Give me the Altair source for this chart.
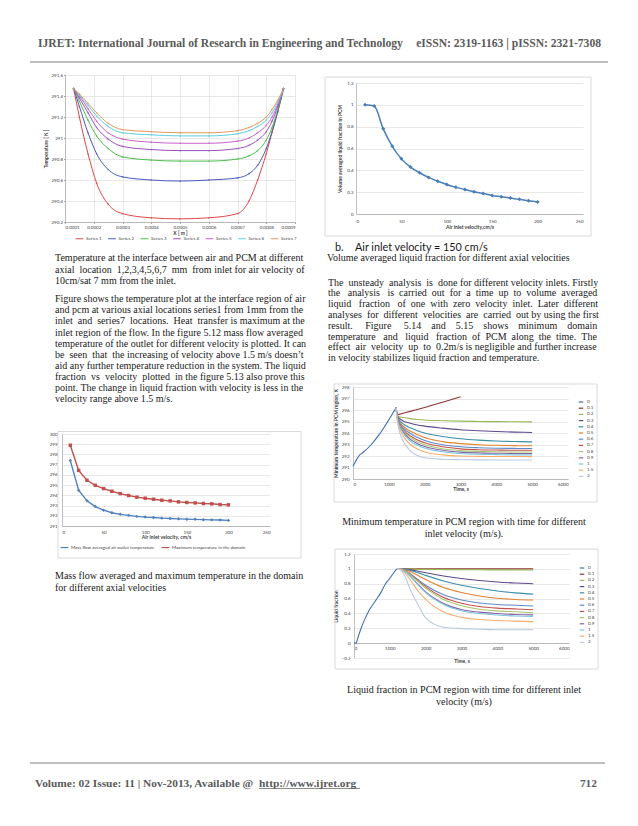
import altair as alt
import pandas as pd

# ---------------- data ----------------
# Chart 1: interface temperature along axial position (K)
c1_x = [0.00013, 0.00015, 0.00018, 0.00021, 0.00025, 0.0003, 0.0004, 0.0005,
        0.0006, 0.0007, 0.00074, 0.00077, 0.0008, 0.00082, 0.00084, 0.00086]
c1_series = ["Series 1", "Series 2", "Series 3", "Series 4", "Series 5", "Series 6", "Series 7"]
c1_s1 = [291.47, 291.2, 290.85, 290.57, 290.37, 290.28, 290.24, 290.23, 290.24, 290.28, 290.4, 290.6, 290.85, 291.05, 291.25, 291.47]
c1_s2 = [291.47, 291.3, 291.05, 290.85, 290.7, 290.63, 290.6, 290.59, 290.6, 290.62, 290.66, 290.74, 290.9, 291.06, 291.25, 291.47]
c1_s3 = [291.47, 291.35, 291.17, 291.02, 290.9, 290.82, 290.79, 290.78, 290.78, 290.8, 290.83, 290.88, 290.98, 291.1, 291.27, 291.47]
c1_s4 = [291.47, 291.38, 291.24, 291.1, 290.99, 290.92, 290.89, 290.88, 290.88, 290.9, 290.93, 290.98, 291.06, 291.16, 291.3, 291.47]
c1_s5 = [291.47, 291.4, 291.28, 291.16, 291.05, 290.99, 290.96, 290.95, 290.95, 290.97, 291.0, 291.05, 291.12, 291.2, 291.32, 291.47]
c1_s6 = [291.47, 291.41, 291.31, 291.21, 291.11, 291.05, 291.03, 291.02, 291.02, 291.04, 291.07, 291.11, 291.17, 291.24, 291.34, 291.47]
c1_s7 = [291.47, 291.42, 291.33, 291.24, 291.14, 291.08, 291.06, 291.05, 291.05, 291.07, 291.1, 291.14, 291.2, 291.27, 291.36, 291.47]
c1_xticks = [0.0001, 0.0002, 0.0003, 0.0004, 0.0005, 0.0006, 0.0007, 0.0008, 0.0009]
c1_yticks = [290.2, 290.4, 290.6, 290.8, 291.0, 291.2, 291.4, 291.6]

# Chart 2: outlet / maximum temperature vs inlet velocity
c2_v = [10, 20, 30, 40, 50, 60, 70, 80, 90, 100, 110, 120, 130, 140, 150, 160, 170, 180, 190, 200]
c2_outlet = [297.4, 294.5, 293.46, 292.9, 292.55, 292.3, 292.14, 292.04, 291.94, 291.87,
             291.83, 291.77, 291.73, 291.7, 291.67, 291.65, 291.62, 291.6, 291.58, 291.55]
c2_max = [298.9, 296.44, 295.47, 294.98, 294.66, 294.4, 294.17, 293.98, 293.82, 293.72,
          293.62, 293.52, 293.46, 293.36, 293.3, 293.26, 293.2, 293.17, 293.1, 293.07]
c2_names = ["Mass flow averaged air outlet temperature", "Maximum temperature in the domain"]
c2_yticks = [291, 292, 293, 294, 295, 296, 297, 298, 299, 300]
c2_xticks = [0, 50, 100, 150, 200, 250]

# Chart 3: volume averaged liquid fraction vs inlet velocity
c3_v = [10, 20, 30, 40, 50, 60, 70, 80, 90, 100, 110, 120, 130, 140, 150, 160, 170, 180, 190, 200]
c3_lf = [1.0, 0.99, 0.78, 0.62, 0.505, 0.43, 0.378, 0.335, 0.30, 0.27,
         0.244, 0.225, 0.204, 0.188, 0.17, 0.158, 0.146, 0.134, 0.122, 0.11]
c3_yticks = [0, 0.2, 0.4, 0.6, 0.8, 1.0, 1.2]

# Charts 4 and 5: series = inlet velocity (m/s)
c45_series = ["0", "0.1", "0.2", "0.3", "0.4", "0.5", "0.6", "0.7", "0.8", "0.9", "1", "1.5", "2"]
c45_colors = ["#3e6fb0", "#8e3532", "#98b954", "#5e4a8c", "#3a8fa8", "#e0822e", "#5b8cc8",
              "#c5514e", "#a9c76e", "#8266a8", "#7cc4dc", "#f5ae70", "#b9c8e4"]

# Chart 4: minimum temperature in PCM (K) vs time (s)
c4_t0 = [0, 190, 280, 510, 740, 980, 1200]
c4_v0 = [291.1, 292.1, 292.3, 293.0, 293.9, 295.05, 296.2]
c4_t01 = [1200, 1250, 1400, 1600, 1800, 2000, 2500, 3000]
c4_v01 = [296.2, 295.6, 295.72, 295.88, 296.05, 296.22, 296.68, 297.15]
c4_t = [1200, 1250, 1400, 1600, 1800, 2000, 2500, 3000, 3500, 4000, 4500, 5000]
c4_v02 = [296.2, 295.45, 295.35, 295.25, 295.18, 295.13, 295.07, 295.03, 295.0, 294.99, 294.98, 294.97]
c4_v03 = [296.2, 295.4, 295.05, 294.85, 294.7, 294.6, 294.42, 294.28, 294.2, 294.13, 294.08, 294.05]
c4_v04 = [296.2, 295.3, 294.8, 294.45, 294.2, 294.0, 293.7, 293.5, 293.38, 293.3, 293.26, 293.23]
c4_v05 = [296.2, 295.25, 294.6, 294.15, 293.85, 293.6, 293.25, 293.08, 292.98, 292.93, 292.9, 292.89]
c4_v06 = [296.2, 295.2, 294.45, 293.95, 293.6, 293.35, 292.98, 292.8, 292.72, 292.68, 292.66, 292.65]
c4_v07 = [296.2, 295.15, 294.3, 293.75, 293.4, 293.15, 292.8, 292.62, 292.55, 292.52, 292.5, 292.5]
c4_v08 = [296.2, 295.1, 294.2, 293.6, 293.22, 292.98, 292.63, 292.47, 292.4, 292.37, 292.35, 292.35]
c4_v09 = [296.2, 295.05, 294.1, 293.45, 293.07, 292.83, 292.5, 292.34, 292.27, 292.24, 292.22, 292.22]
c4_v10 = [296.2, 295.0, 294.0, 293.3, 292.93, 292.7, 292.37, 292.22, 292.15, 292.12, 292.1, 292.1]
c4_v15 = [296.2, 294.9, 293.75, 293.0, 292.6, 292.35, 292.1, 292.0, 291.97, 291.96, 291.95, 291.95]
c4_v20 = [296.2, 294.8, 293.3, 292.45, 292.05, 291.85, 291.72, 291.68, 291.66, 291.65, 291.65, 291.65]
c4_yticks = [290, 291, 292, 293, 294, 295, 296, 297, 298]
c45_xticks = [0, 1000, 2000, 3000, 4000, 5000, 6000]

# Chart 5: liquid fraction vs time (s)
c5_t0 = [0, 60, 100, 190, 280, 420, 600, 750, 880, 980, 1070, 1160, 1200]
c5_v0 = [0.0, 0.0, 0.06, 0.19, 0.3, 0.44, 0.57, 0.68, 0.8, 0.86, 0.92, 0.98, 1.0]
c5_t = [1200, 1300, 1400, 1600, 1800, 2000, 2500, 3000, 3500, 4000, 4500, 5000]
c5_v01 = [1.0, 1.0, 1.0, 1.0, 1.0, 1.0, 1.0, 1.0, 1.0, 1.0, 1.0, 1.0]
c5_v02 = [1.0, 1.0, 0.999, 0.997, 0.995, 0.993, 0.99, 0.988, 0.987, 0.986, 0.985, 0.985]
c5_v03 = [1.0, 1.0, 0.998, 0.986, 0.968, 0.948, 0.904, 0.87, 0.844, 0.824, 0.81, 0.80]
c5_v04 = [1.0, 1.0, 0.997, 0.976, 0.946, 0.912, 0.837, 0.779, 0.735, 0.701, 0.677, 0.66]
c5_v05 = [1.0, 1.0, 0.992, 0.958, 0.908, 0.857, 0.748, 0.681, 0.635, 0.605, 0.588, 0.58]
c5_v06 = [1.0, 1.0, 0.985, 0.925, 0.85, 0.78, 0.65, 0.58, 0.54, 0.52, 0.51, 0.50]
c5_v07 = [1.0, 1.0, 0.984, 0.918, 0.835, 0.758, 0.615, 0.538, 0.494, 0.472, 0.461, 0.45]
c5_v08 = [1.0, 1.0, 0.982, 0.91, 0.823, 0.74, 0.587, 0.504, 0.457, 0.434, 0.422, 0.41]
c5_v09 = [1.0, 0.997, 0.975, 0.888, 0.783, 0.69, 0.535, 0.454, 0.417, 0.399, 0.386, 0.38]
c5_v10 = [1.0, 0.997, 0.974, 0.885, 0.776, 0.68, 0.52, 0.437, 0.398, 0.379, 0.366, 0.36]
c5_v15 = [1.0, 0.993, 0.957, 0.83, 0.695, 0.588, 0.418, 0.347, 0.318, 0.304, 0.297, 0.29]
c5_v20 = [1.0, 0.984, 0.918, 0.688, 0.508, 0.34, 0.215, 0.196, 0.188, 0.18, 0.18, 0.18]
c5_yticks = [-0.2, 0, 0.2, 0.4, 0.6, 0.8, 1.0, 1.2]

# ---------------- page text ----------------
header_left = "IJRET: International Journal of Research in Engineering and Technology"
header_right = "eISSN: 2319-1163 | pISSN: 2321-7308"
footer_left = "Volume: 02 Issue: 11 | Nov-2013, Available @ "
footer_link = "http://www.ijret.org"
footer_page = "712"

cap1 = ["Temperature at the interface between air and PCM at different",
        "axial location 1,2,3,4,5,6,7 mm from inlet for air velocity of",
        "10cm/sat 7 mm from the inlet."]
para1 = ["Figure shows the temperature plot at the interface region of air",
         "and pcm at various axial locations series1 from 1mm from the",
         "inlet and series7 locations. Heat transfer is maximum at the",
         "inlet region of the flow. In the figure 5.12 mass flow averaged",
         "temperature of the outlet for different velocity is plotted. It can",
         "be seen that the increasing of velocity above 1.5 m/s doesn\u2019t",
         "aid any further temperature reduction in the system. The liquid",
         "fraction vs velocity plotted in the figure 5.13 also prove this",
         "point. The change in liquid fraction with velocity is less in the",
         "velocity range above 1.5 m/s."]
cap2 = ["Mass flow averaged and maximum temperature in the domain",
        "for different axial velocities"]
sub3_a = "b."
sub3_b = "Air inlet velocity = 150 cm/s"
cap3 = ["Volume averaged liquid fraction for different axial velocities"]
para2 = ["The unsteady analysis is done for different velocity inlets. Firstly",
         "the analysis is carried out for a time up to volume averaged",
         "liquid fraction of one with zero velocity inlet. Later different",
         "analyses for different velocities are carried out by using the first",
         "result.  Figure  5.14  and  5.15  shows  minimum  domain",
         "temperature and liquid fraction of PCM along the time. The",
         "effect air velocity up to 0.2m/s is negligible and further increase",
         "in velocity stabilizes liquid fraction and temperature."]
cap4 = ["Minimum temperature in PCM  region with time for different",
        "inlet velocity (m/s)."]
cap5 = ["Liquid fraction in PCM region with time for different inlet",
        "velocity (m/s)"]

# ---------------- helpers ----------------
ONE = pd.DataFrame({"k": [0]})
SERIF = "Liberation Serif"
SANS = "Lato"
BODY_SIZE = 10
GRID = "#d9d9d9"
LAB = "#404040"

# Times-compatible advance widths (per 1000 em) used to justify the text lines
_W = {" ": 250, "a": 444, "b": 500, "c": 444, "d": 500, "e": 444, "f": 333, "g": 500, "h": 500,
      "i": 278, "j": 278, "k": 500, "l": 278, "m": 778, "n": 500, "o": 500, "p": 500, "q": 500,
      "r": 333, "s": 389, "t": 278, "u": 500, "v": 500, "w": 722, "x": 500, "y": 500, "z": 444,
      "A": 722, "B": 667, "C": 667, "D": 722, "E": 611, "F": 556, "G": 722, "H": 722, "I": 333,
      "J": 389, "K": 722, "L": 611, "M": 889, "N": 722, "O": 722, "P": 556, "Q": 722, "R": 667,
      "S": 556, "T": 611, "U": 722, "V": 722, "W": 944, "X": 722, "Y": 722, "Z": 611,
      ".": 250, ",": 250, ":": 278, ";": 278, "/": 278, "(": 333, ")": 333, "-": 333,
      "\u2019": 333, "=": 564}


def text_width(s, size):
    return sum(_W.get(ch, 500) for ch in s) * size / 1000.0


def justify(lines, target, size=BODY_SIZE, last=False):
    out = []
    for i, line in enumerate(lines):
        words = line.split()
        if (i == len(lines) - 1 and not last) or len(words) < 2:
            out.append(" ".join(words))
            continue
        gaps = len(words) - 1
        extra = target - text_width(" ".join(words), size)
        n = max(0, int(round(extra / (0.25 * size))))
        s = words[0]
        for j, w in enumerate(words[1:]):
            k = n // gaps + (1 if j < n % gaps else 0)
            s += " " + "\u00a0" * k + w
        out.append(s)
    return out


def blank(w, h):
    return alt.Chart(ONE).mark_rect(opacity=0).encode(
        x=alt.value(0), x2=alt.value(w), y=alt.value(0), y2=alt.value(h)
    ).properties(width=w, height=h)


def text(lines, x, y, size=BODY_SIZE, lh=11.1, align="left", font=SERIF,
         weight="normal", color="#1a1a1a"):
    return alt.Chart(ONE).mark_text(
        align=align, baseline="alphabetic", font=font, fontSize=size,
        lineHeight=lh, lineBreak="\n", fontWeight=weight, color=color
    ).encode(x=alt.value(x), y=alt.value(y), text=alt.value("\n".join(lines)))


def frame(x1, x2, y1, y2):
    # invisible rectangle fixing the extent of a panel
    return alt.Chart(ONE).mark_rect(opacity=0).encode(
        x=alt.value(x1), x2=alt.value(x2), y=alt.value(y1), y2=alt.value(y2))


def border(x1, x2, y1, y2):
    return alt.Chart(ONE).mark_rect(fillOpacity=0, stroke="#d0d0d0", strokeWidth=0.8).encode(
        x=alt.value(x1), x2=alt.value(x2), y=alt.value(y1), y2=alt.value(y2))


def axis(values, fmt, title, grid, lpad, tpad, **kw):
    base = dict(values=values, format=fmt, title=title, grid=grid, gridColor=GRID,
                gridWidth=0.6, labelFont=SANS, labelFontSize=4.5, labelColor=LAB,
                titleFont=SANS, titleFontSize=5, titleFontWeight="bold", titleColor=LAB,
                domainColor="#a6a6a6", domainWidth=0.7, tickColor="#a6a6a6", tickSize=1.5,
                labelPadding=lpad, titlePadding=tpad)
    base.update(kw)
    return alt.Axis(**base)


def indep(c):
    return c.resolve_scale(color="independent", shape="independent")


def long_df(xs_list, vs_list, names, xk, vk):
    rows = []
    for xs, vs, nm in zip(xs_list, vs_list, names):
        for a, b in zip(xs, vs):
            rows.append({xk: a, vk: b, "s": nm})
    return pd.DataFrame(rows)


# ---------------- chart 1 ----------------
W1, H1 = 230, 147
df1 = long_df([c1_x] * 7, [c1_s1, c1_s2, c1_s3, c1_s4, c1_s5, c1_s6, c1_s7], c1_series, "x", "T")
c1_colors = ["#e04848", "#4a5bbf", "#4cbc4c", "#9b4fc0", "#c861c8", "#5ccfe0", "#e09a5a"]
x1 = alt.X("x:Q", scale=alt.Scale(domain=[0.0001, 0.0009], nice=False, zero=False),
           axis=axis(c1_xticks, ".4f", "X [ m ]", True, 1, 1))
y1 = alt.Y("T:Q", scale=alt.Scale(domain=[290.2, 291.6], nice=False, zero=False),
           axis=axis(c1_yticks, ".1~f", "Temperature [ K ]", True, 1, 2))
sc1 = alt.Scale(domain=c1_series, range=c1_colors)
chart1 = alt.layer(
    frame(-22, W1 + 10, -7, H1 + 22),
    alt.Chart(df1).mark_line(strokeWidth=1, interpolate="monotone").encode(
        x=x1, y=y1,
        color=alt.Color("s:N", scale=sc1,
                        legend=alt.Legend(orient="none", legendX=10, legendY=159, direction="horizontal",
                                          columns=7, title=None, labelFont=SANS, labelFontSize=4.5,
                                          labelColor=LAB, symbolSize=60, symbolStrokeWidth=1,
                                          columnPadding=3.5, labelOffset=2, padding=0))),
    alt.Chart(df1).mark_point(size=3, filled=True).encode(
        x=x1, y=y1, color=alt.Color("s:N", scale=sc1, legend=None)),
).properties(width=W1, height=H1)

# ---------------- chart 2 ----------------
W2, H2 = 208, 92
df2 = long_df([c2_v, c2_v], [c2_outlet, c2_max], c2_names, "v", "T")
x2 = alt.X("v:Q", scale=alt.Scale(domain=[0, 250], nice=False),
           axis=axis(c2_xticks, "d", "Air inlet velocity, cm/s", False, 3, 1, tickSize=0))
y2 = alt.Y("T:Q", scale=alt.Scale(domain=[291, 300], nice=False, zero=False),
           axis=axis(c2_yticks, "d", None, True, 5, 1, tickSize=0))
c2_colors = ["#4f81bd", "#c0504d"]
c2_shapes = ["diamond", "square"]
sc2 = alt.Scale(domain=c2_names, range=c2_colors)
c2_layers = [
    frame(-16, W2 + 34, -4, H2 + 34),
    border(-4, W2 + 31, -2.5, H2 + 32),
    alt.Chart(df2).mark_line(strokeWidth=1.4).encode(
        x=x2, y=y2,
        color=alt.Color("s:N", scale=sc2,
                        legend=alt.Legend(orient="none", legendX=-2, legendY=109, direction="horizontal",
                                          columns=2, title=None, labelFont=SANS, labelFontSize=4.5,
                                          labelColor=LAB, symbolSize=60, symbolStrokeWidth=1.2,
                                          columnPadding=4, labelOffset=2, padding=0))),
]
for nm, colr, shp in zip(c2_names, c2_colors, c2_shapes):
    c2_layers.append(
        alt.Chart(df2).transform_filter(alt.datum.s == nm).mark_point(
            filled=True, size=12, shape=shp, color=colr, opacity=1).encode(x=x2, y=y2))
chart2 = alt.layer(*c2_layers).properties(width=W2, height=H2)

# ---------------- chart 3 ----------------
W3, H3 = 227, 131
df3 = pd.DataFrame({"v": c3_v, "lf": c3_lf})
x3 = alt.X("v:Q", scale=alt.Scale(domain=[0, 250], nice=False),
           axis=axis(c2_xticks, "d", "Air inlet velocity,cm/s", False, 4, 2, tickSize=0))
y3 = alt.Y("lf:Q", scale=alt.Scale(domain=[0, 1.2], nice=False),
           axis=axis(c3_yticks, ".1~f", "Volume averaged liquid fraction in PCM", True, 3, 4, tickSize=0))
chart3 = alt.layer(
    frame(-33, W3 + 10, -7, H3 + 24),
    border(-31, W3 + 8, -6, H3 + 22),
    alt.Chart(df3).mark_line(strokeWidth=1.5, color="#4a7ebb", interpolate="monotone").encode(x=x3, y=y3),
    alt.Chart(df3).mark_point(filled=True, size=16, shape="diamond", color="#4a7ebb", opacity=1).encode(x=x3, y=y3),
).properties(width=W3, height=H3)

# ---------------- charts 4 and 5 ----------------
legend45 = dict(orient="none", legendX=225, direction="vertical", title=None, labelFont=SANS,
                labelFontSize=4.5, labelColor=LAB, symbolSize=20, symbolStrokeWidth=1.2,
                rowPadding=0.2, labelOffset=3, padding=0)

W4, H4 = 215, 92
df4 = long_df([c4_t0, c4_t01] + [c4_t] * 11,
              [c4_v0, c4_v01, c4_v02, c4_v03, c4_v04, c4_v05, c4_v06, c4_v07, c4_v08, c4_v09,
               c4_v10, c4_v15, c4_v20], c45_series, "t", "T")
x4 = alt.X("t:Q", scale=alt.Scale(domain=[0, 6000], nice=False),
           axis=axis(c45_xticks, "d", "Time, s", False, 2, 1, tickSize=0))
y4 = alt.Y("T:Q", scale=alt.Scale(domain=[290, 298], nice=False, zero=False),
           axis=axis(c4_yticks, "d", "Minimum temperature in PCM region, K", True, 4, 3, tickSize=0))
chart4 = alt.layer(
    frame(-20, W4 + 31, -4, H4 + 24),
    border(-19, W4 + 29, -3, H4 + 23),
    alt.Chart(df4).mark_line(strokeWidth=1.1, interpolate="monotone").encode(
        x=x4, y=y4, color=alt.Color("s:N", scale=alt.Scale(domain=c45_series, range=c45_colors),
                                    legend=alt.Legend(legendY=12, **legend45))),
).properties(width=W4, height=H4)

W5, H5 = 215, 104
df5 = long_df([c5_t0] + [c5_t] * 12,
              [c5_v0, c5_v01, c5_v02, c5_v03, c5_v04, c5_v05, c5_v06, c5_v07, c5_v08, c5_v09,
               c5_v10, c5_v15, c5_v20], c45_series, "t", "L")
x5 = alt.X("t:Q", scale=alt.Scale(domain=[0, 6000], nice=False),
           axis=axis(c45_xticks, "d", "Time, s", False, 2, 9, tickSize=0, offset=-15))
y5 = alt.Y("L:Q", scale=alt.Scale(domain=[-0.2, 1.2], nice=False, zero=False),
           axis=axis(c5_yticks, ".1~f", "Liquid fraction", True, 4, 3, tickSize=0))
chart5 = alt.layer(
    frame(-20, W5 + 31, -6, H5 + 12),
    border(-19, W5 + 29, -5, H5 + 11),
    alt.Chart(df5).mark_line(strokeWidth=1.1, interpolate="monotone").encode(
        x=x5, y=y5, color=alt.Color("s:N", scale=alt.Scale(domain=c45_series, range=c45_colors),
                                    legend=alt.Legend(legendY=11, **legend45))),
).properties(width=W5, height=H5)

# ---------------- text panels ----------------
HEAD_GRAY = "#5a5a5a"
HEAD_SIZE = 11.6
header = alt.layer(
    text([header_left], 30, 38.5, size=HEAD_SIZE, weight="bold", color=HEAD_GRAY),
    text([header_right], 593, 38.5, size=HEAD_SIZE, weight="bold", color=HEAD_GRAY, align="right"),
    alt.Chart(ONE).mark_rule(color="#7f7f7f", strokeWidth=1).encode(
        x=alt.value(22), x2=alt.value(600), y=alt.value(54)),
).properties(width=622, height=59)

LEFT_W = 249
RIGHT_W = 270
L3 = alt.layer(
    text(justify(cap1, LEFT_W), 47, 17.3, lh=11.6),
    text(justify(para1, LEFT_W), 47, 58.3, lh=11.1),
).properties(width=314, height=186)

L5 = alt.layer(
    text(justify(cap2, LEFT_W), 47, 19, lh=12),
).properties(width=314, height=45)

R3 = alt.layer(
    text([sub3_a], 13, 12.5, size=10.8, font=SANS),
    text([sub3_b], 33, 12.5, size=10.8, font=SANS),
    text(cap3, 5, 23),
    text(justify(para2, RIGHT_W), 6, 47.7, lh=10.8),
).properties(width=308, height=145)

R5 = alt.layer(text(cap4, 142, 22, lh=12, align="center")).properties(width=308, height=45)
R7 = alt.layer(text(cap5, 142, 23, lh=12, align="center")).properties(width=308, height=45)

FOOT_SIZE = 11.4
footer = alt.layer(
    alt.Chart(ONE).mark_rule(color="#7f7f7f", strokeWidth=1).encode(
        x=alt.value(22), x2=alt.value(597), y=alt.value(48)),
    text([footer_left], 27, 71.5, size=FOOT_SIZE, weight="bold", color=HEAD_GRAY),
    text([footer_link], 251, 71.5, size=FOOT_SIZE, weight="bold", color=HEAD_GRAY),
    alt.Chart(ONE).mark_rule(color=HEAD_GRAY, strokeWidth=0.7).encode(
        x=alt.value(251), x2=alt.value(352), y=alt.value(73.5)),
    text([footer_page], 589, 71.5, size=FOOT_SIZE, weight="bold", color=HEAD_GRAY, align="right"),
).properties(width=622, height=82)

# ---------------- layout ----------------
left = indep(alt.vconcat(
    blank(1, 1),
    indep(alt.hconcat(blank(35, 1), chart1, spacing=0)),
    L3,
    indep(alt.hconcat(blank(38, 1), chart2, spacing=0)),
    L5,
    spacing=0,
))
right = indep(alt.vconcat(
    blank(1, 9),
    indep(alt.hconcat(blank(1, 1), chart3, spacing=0)),
    R3,
    indep(alt.hconcat(blank(11, 1), chart4, spacing=0)),
    R5,
    indep(alt.hconcat(blank(11, 1), chart5, spacing=0)),
    R7,
    spacing=0,
))
body = indep(alt.hconcat(left, right, spacing=0))

chart = indep(alt.vconcat(header, body, footer, spacing=0)).properties(
    padding=0, background="white"
).configure_view(strokeWidth=0)

chart.save("out.html", embed_options={"renderer": "svg", "actions": False})
